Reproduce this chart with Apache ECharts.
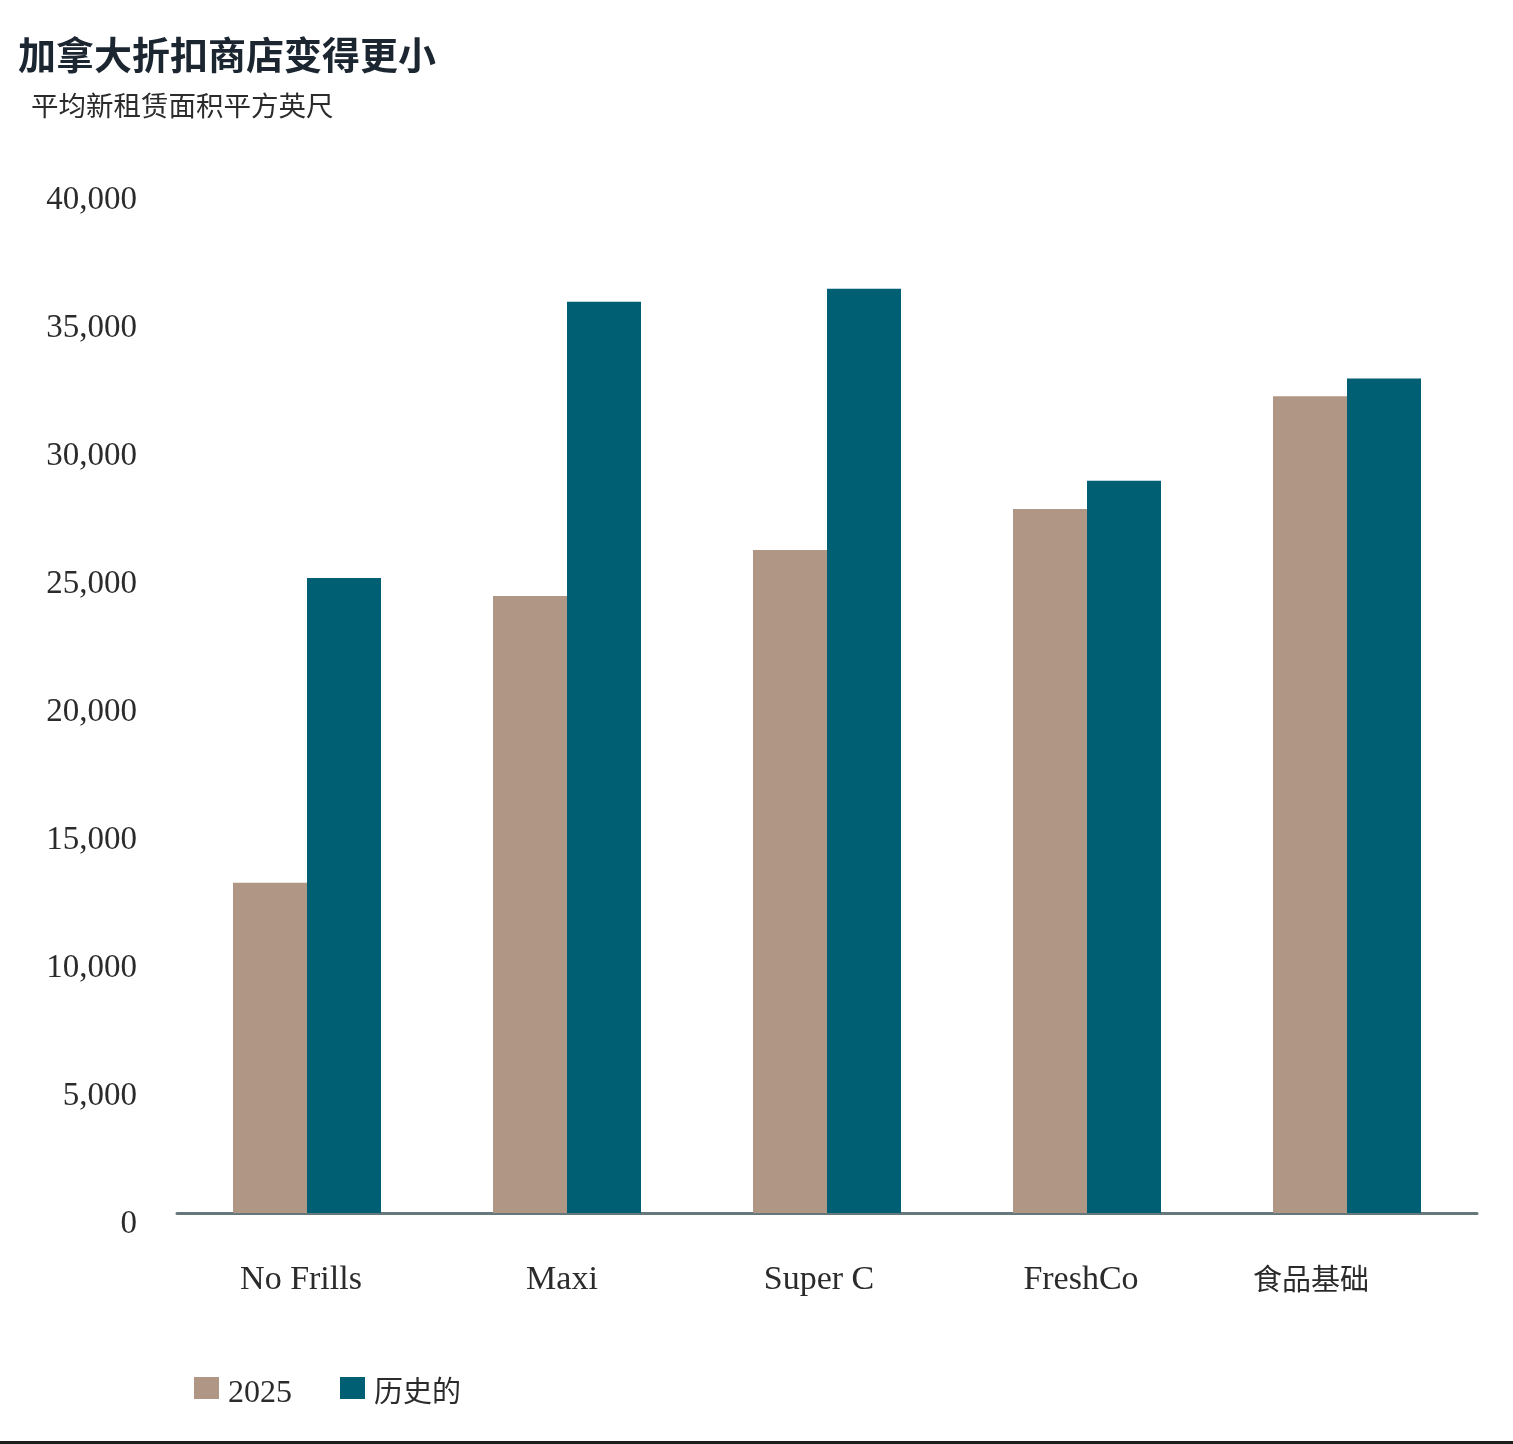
<!DOCTYPE html>
<html>
<head>
<meta charset="utf-8">
<script src="https://cdn.jsdelivr.net/npm/echarts@6/dist/echarts.min.js"></script>
<style>
html,body{margin:0;padding:0;background:#fff;}
#c{width:1513px;height:1444px;}
</style>
</head>
<body>
<div id="c"></div>
<script>
const categories = ['No Frills', 'Maxi', 'Super C', 'FreshCo', '食品基础'];
const labelShift = [12, 10, 16, 12, 72];
const series2025 = [12900, 24100, 25900, 27500, 31900];
const seriesHistorical = [24800, 35600, 36100, 28600, 32600];
const seriesNames = ['2025', '历史的'];
const yTicks = { min: 0, max: 40000, interval: 5000 };

const serif = '"Liberation Serif", "Noto Sans CJK SC", serif';
const isCJK = s => /[\u4e00-\u9fff]/.test(s);
const chart = echarts.init(document.getElementById('c'), null, { renderer: 'canvas' });
chart.setOption({
  animation: false,
  backgroundColor: '#ffffff',
  title: [
    { text: '加拿大折扣商店变得更小', left: 13, top: 31,
      textStyle: { fontFamily: '"Noto Sans CJK SC", sans-serif', fontWeight: 'bold', fontSize: 38, color: '#1c2631' } },
    { text: '平均新租赁面积平方英尺', left: 26, top: 87,
      textStyle: { fontFamily: '"Noto Sans CJK SC", sans-serif', fontWeight: 'normal', fontSize: 27.5, color: '#2b2b2b' } }
  ],
  legend: {
    left: 194, top: 1377, padding: 0,
    itemWidth: 25, itemHeight: 22, itemGap: 48,
    icon: 'rect',
    formatter: n => isCJK(n) ? '{c|' + n + '}' : '{e|' + n + '}',
    textStyle: {
      fontFamily: serif, fontSize: 32, color: '#2b2b2b',
      rich: {
        e: { fontFamily: serif, fontSize: 32, color: '#2b2b2b', padding: [12, 0, 0, 4] },
        c: { fontFamily: serif, fontSize: 29, color: '#2b2b2b', padding: [12, 0, 0, 4] }
      }
    },
    data: seriesNames
  },
  grid: { left: 177, right: 36, top: 189, bottom: 231, containLabel: false },
  xAxis: {
    type: 'category',
    data: categories.map((c, i) => ({ value: c, textStyle: { padding: [isCJK(c) ? 5 : 0, labelShift[i], 0, 0], fontSize: isCJK(c) ? 29 : 34 } })),
    axisLine: { lineStyle: { color: '#66787c', width: 3 } },
    axisTick: { show: false },
    axisLabel: { margin: 50, fontFamily: serif, fontSize: 34, color: '#2b2b2b' }
  },
  yAxis: {
    type: 'value',
    min: yTicks.min, max: yTicks.max, interval: yTicks.interval,
    splitLine: { show: false },
    axisLine: { show: false },
    axisTick: { show: false },
    axisLabel: {
      margin: 40, fontFamily: serif, fontSize: 33, color: '#2b2b2b',
      verticalAlign: 'top', lineHeight: 22,
      formatter: v => v.toLocaleString('en-US')
    }
  },
  series: [
    { name: seriesNames[0], type: 'bar', data: series2025, barWidth: 74, barGap: '0%',
      itemStyle: { color: '#b09684' } },
    { name: seriesNames[1], type: 'bar', data: seriesHistorical, barWidth: 74, barGap: '0%',
      itemStyle: { color: '#005f73' } }
  ],
  graphic: [
    { type: 'rect', left: 0, top: 1441, shape: { width: 1513, height: 3 }, style: { fill: '#1e1e1e' } }
  ]
});
</script>
</body>
</html>
